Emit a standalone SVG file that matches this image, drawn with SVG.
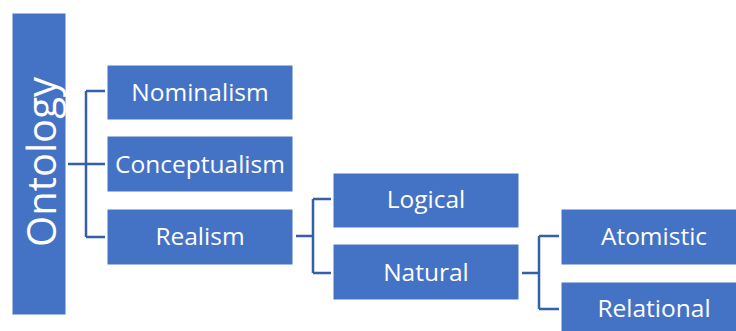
<svg xmlns="http://www.w3.org/2000/svg" width="736" height="331" viewBox="0 0 736 331">
  <style>
    .box { fill: #4472C4; stroke: #ffffff; stroke-width: 1; }
    .lbl { fill: #ffffff; font-family: "Open Sans", "Liberation Sans", sans-serif; font-size: 24.5px; text-anchor: middle; dominant-baseline: central; }
    .big { font-size: 40px; }
    .wire { fill: none; stroke: #3360A8; stroke-width: 2.5; }
  </style>
  <rect width="736" height="331" fill="#ffffff"/>
  <g id="connectors">
    <path class="wire" d="M68 164 H105 M86 91 V237 M86 91 H105 M86 237 H105"/>
    <path class="wire" d="M296 236 H313 M313 199 V273 M313 199 H331 M313 273 H331"/>
    <path class="wire" d="M522 273 H539 M539 236 V309 M539 236 H559 M539 309 H559"/>
  </g>
  <g id="ontology">
    <rect class="box" x="12" y="13" width="54" height="302"/>
    <text class="lbl big" transform="translate(40 162) rotate(-90)">Ontology</text>
  </g>
  <g id="nominalism">
    <rect class="box" x="107" y="65" width="186" height="55"/>
    <text class="lbl" x="200" y="91">Nominalism</text>
  </g>
  <g id="conceptualism">
    <rect class="box" x="107" y="136" width="186" height="56"/>
    <text class="lbl" x="200" y="163">Conceptualism</text>
  </g>
  <g id="realism">
    <rect class="box" x="107" y="209" width="186" height="56"/>
    <text class="lbl" x="200" y="235">Realism</text>
  </g>
  <g id="logical">
    <rect class="box" x="333" y="173" width="186" height="55"/>
    <text class="lbl" x="426" y="198">Logical</text>
  </g>
  <g id="natural">
    <rect class="box" x="333" y="244" width="186" height="56"/>
    <text class="lbl" x="426" y="271">Natural</text>
  </g>
  <g id="atomistic">
    <rect class="box" x="561" y="209" width="186" height="56"/>
    <text class="lbl" x="654" y="235">Atomistic</text>
  </g>
  <g id="relational">
    <rect class="box" x="561" y="282" width="186" height="56"/>
    <text class="lbl" x="654" y="307">Relational</text>
  </g>
</svg>
